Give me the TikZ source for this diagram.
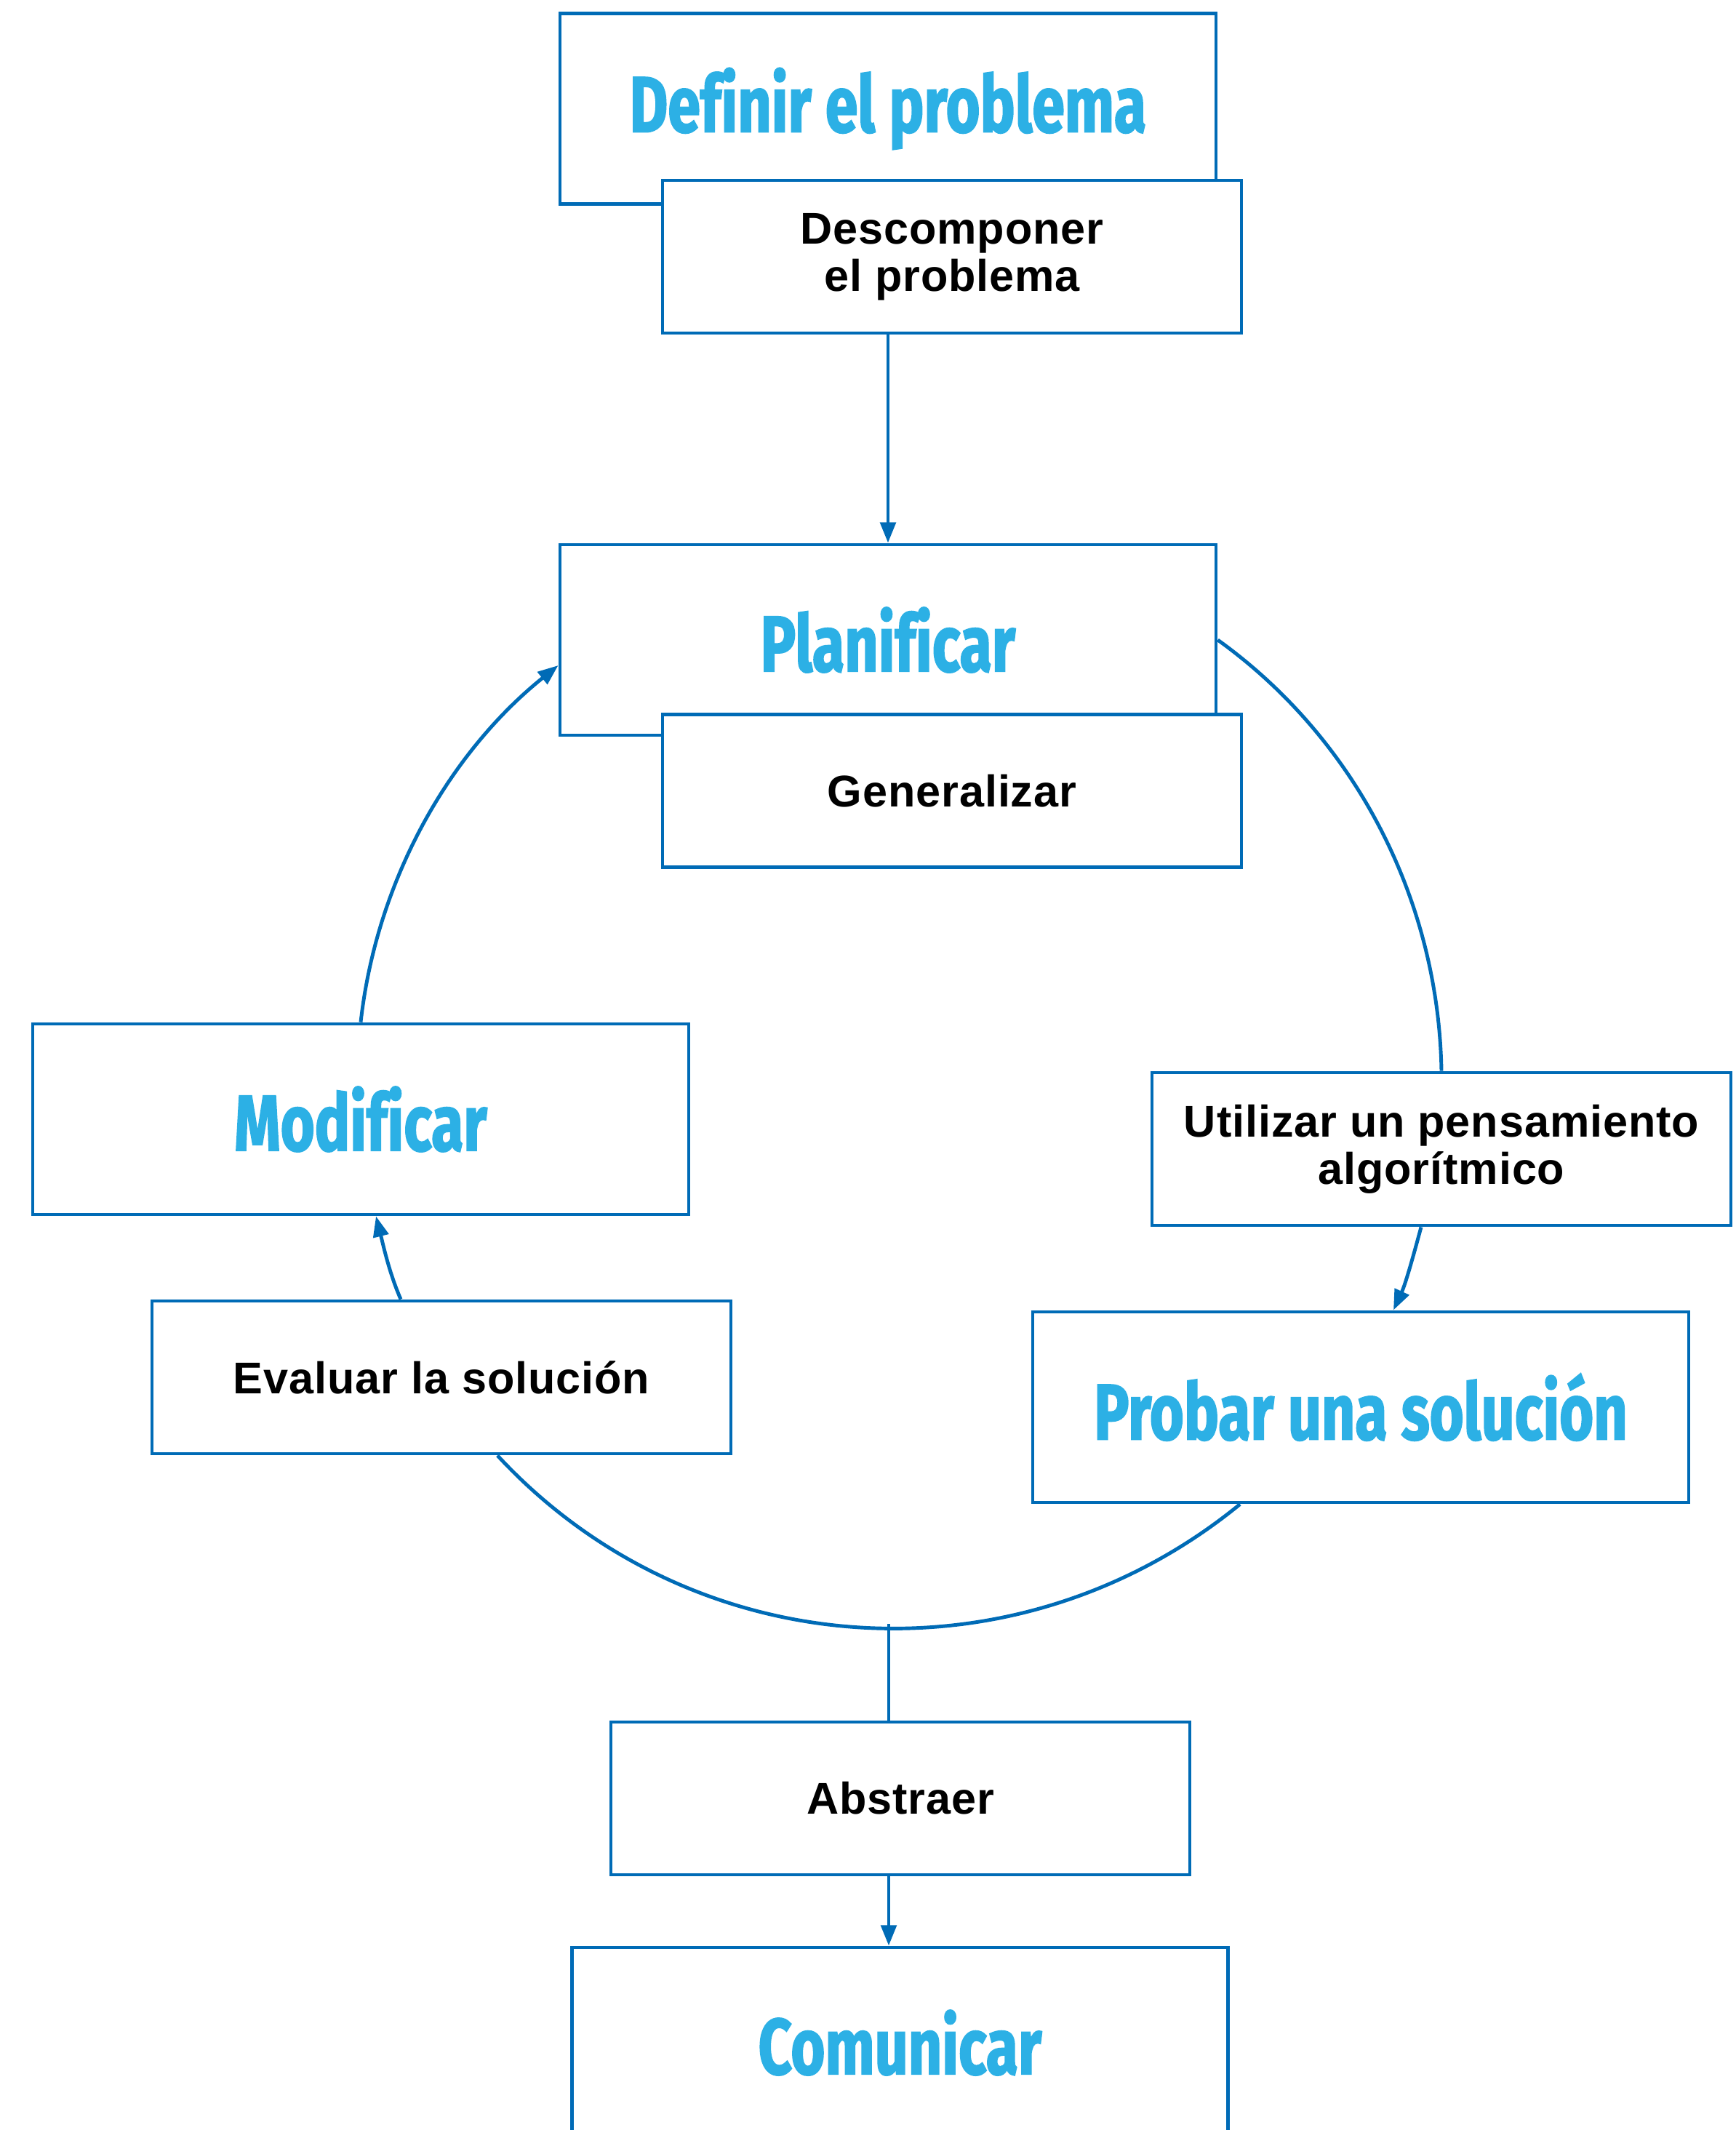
\documentclass[tikz,border=0pt]{standalone}
\usepackage{fontspec}
\usepackage{tikz}
\usetikzlibrary{arrows.meta}
\newfontfamily\titlefont[FakeStretch=0.74,FakeBold=1.6,Ligatures=NoCommon]{Fira Sans}
\newfontfamily\labelfont[LetterSpace=1.5]{Liberation Sans}
\definecolor{cycleblue}{RGB}{0,107,182}
\definecolor{titlecyan}{RGB}{44,176,229}

\begin{document}
\begin{tikzpicture}[bigbox/.style={draw=cycleblue, line width=1.4pt, fill=white,
                      minimum width=9.02cm, minimum height=2.62cm, text=titlecyan,
                      font=\titlefont\bfseries\fontsize{31}{31}\selectfont},
                    smallbox/.style={draw=cycleblue, line width=1.4pt, fill=white,
                      minimum width=7.96cm, minimum height=2.10cm, align=center,
                      font=\labelfont\bfseries\fontsize{17.4}{18.4}\selectfont},
                    flow/.style={draw=cycleblue, line width=1.4pt},
                    >={Triangle[length=8pt,width=6pt]}]
		\path[use as bounding box] (0,0) rectangle (23.87,-29.29);
		\clip (0,0) rectangle (23.87,-29.29);
		\node[bigbox] (defn) at (12.21,-1.495) {Definir el problema};
		\node[smallbox] (decomp) at (13.09,-3.53) {Descomponer\\el problema};
		\node[bigbox] (plan) at (12.21,-8.80) {Planificar};
		\node[smallbox] (gener) at (13.09,-10.875) {Generalizar};
		\node[bigbox] (modif) at (4.96,-15.39) {Modificar};
		\node[smallbox] (util) at (19.82,-15.80) {Utilizar un pensamiento\\algorítmico};
		\node[bigbox] (probar) at (18.71,-19.35) {Probar una solución};
		\node[smallbox] (eval) at (6.07,-18.94) {Evaluar la solución};
		\node[smallbox] (abstr) at (12.38,-24.73) {Abstraer};
		\node[bigbox] (comun) at (12.375,-28.09) {Comunicar};
		\coordinate (low) at (12.22,-22.33);
		\draw[flow,->] (plan.north |- decomp.south) -- (plan.north);
		\draw[flow] (plan.east) to[out=-35.7, in=91, looseness=0.9] (util.north);
		\draw[flow,->] ([xshift=-0.28cm]util.south) to[out=-105.1, in=65.3, looseness=0.85] ([xshift=0.45cm]probar.north);
		\draw[flow] ([xshift=-1.66cm]probar.south) to[out=-140.7, in=-47.2, looseness=0.99] ([xshift=0.77cm]eval.south);
		\draw[flow,->] ([xshift=-0.56cm]eval.north) to[out=113.7, in=-75.9, looseness=0.85] ([xshift=0.21cm]modif.south);
		\draw[flow,->] (modif.north) to[out=83.65, in=218.8, looseness=0.885] ([yshift=-0.35cm]plan.west);
		\draw[flow] (low) -- (low |- abstr.north);
		\draw[flow,->] (low |- abstr.south) -- (low |- comun.north);
	\end{tikzpicture}
\end{document}
